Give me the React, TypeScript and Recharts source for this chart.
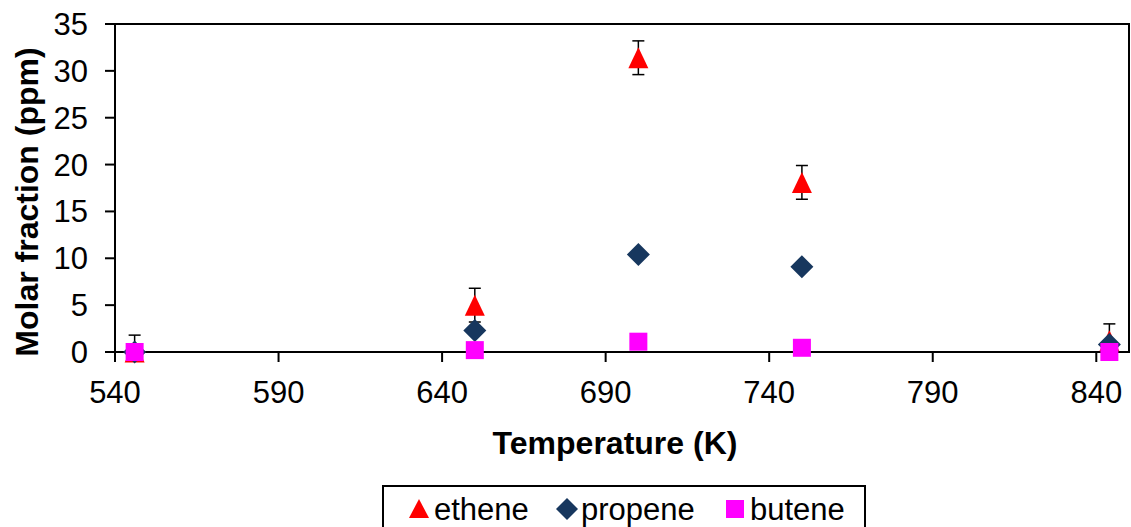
import React from 'react';
import {
  ScatterChart,
  Scatter,
  XAxis,
  YAxis,
  ErrorBar,
  ReferenceArea,
  Legend,
  Label,
} from 'recharts';

const FONT = '"Liberation Sans", Arial, sans-serif';

// Temperatures (K) at which samples were taken
const temperatures = [546, 650, 700, 750, 844];

// Molar fractions (ppm)
const ethene = [0, 5.0, 31.4, 18.1, 1.2];
const propene = [0, 2.3, 10.4, 9.1, 0.8];
const butene = [0, 0.2, 1.1, 0.45, 0];

// Ethene error bars (lower, upper); lower part is clipped at the axis in the original
const etheneErrLow = [0, 1.8, 1.8, 1.8, 1.2];
const etheneErrHigh = [1.8, 1.8, 1.8, 1.8, 1.8];

const xTicks = [540, 590, 640, 690, 740, 790, 840];
const yTicks = [0, 5, 10, 15, 20, 25, 30, 35];

const seriesNames = ['ethene', 'propene', 'butene'];
const seriesColors = ['#FF0000', '#17375E', '#FF00FF'];

const etheneData = temperatures.map((t, i) => ({
  x: t,
  y: ethene[i],
  err: [etheneErrLow[i], etheneErrHigh[i]],
}));
const propeneData = temperatures.map((t, i) => ({ x: t, y: propene[i] }));
const buteneData = temperatures.map((t, i) => ({ x: t, y: butene[i] }));

const Triangle = (props: any) => {
  const { cx, cy } = props;
  return (
    <polygon
      points={`${cx},${cy - 10.5} ${cx + 10},${cy + 10.5} ${cx - 10},${cy + 10.5}`}
      fill={seriesColors[0]}
    />
  );
};

const Diamond = (props: any) => {
  const { cx, cy } = props;
  const h = 11.5;
  return (
    <polygon
      points={`${cx},${cy - h} ${cx + h},${cy} ${cx},${cy + h} ${cx - h},${cy}`}
      fill={seriesColors[1]}
    />
  );
};

const Square = (props: any) => {
  const { cx, cy } = props;
  return <rect x={cx - 9} y={cy - 9} width={18} height={18} fill={seriesColors[2]} />;
};

const renderLegend = () => (
  <svg width={484} height={50} style={{ display: 'block' }}>
    <rect x={1} y={1} width={482} height={60} fill="#fff" stroke="#000" strokeWidth={2} />
    <polygon points="37,14 47,33 27,33" fill={seriesColors[0]} />
    <text x={52} y={35} fontSize={31} fontFamily={FONT} fill="#000">
      {seriesNames[0]}
    </text>
    <polygon points="185,13 196,24 185,35 174,24" fill={seriesColors[1]} />
    <text x={199} y={35} fontSize={31} fontFamily={FONT} fill="#000">
      {seriesNames[1]}
    </text>
    <rect x={344} y={15} width={18} height={18} fill={seriesColors[2]} />
    <text x={368} y={35} fontSize={31} fontFamily={FONT} fill="#000">
      {seriesNames[2]}
    </text>
  </svg>
);

const tickStyle = { fontSize: 31, fill: '#000', fontFamily: FONT };

export default function App() {
  return (
    <div style={{ position: 'absolute', left: 0, top: 0 }}>
      <ScatterChart
        width={1131}
        height={527}
        margin={{ top: 24, right: 2, bottom: 65, left: 0 }}
        style={{ background: '#fff' }}
      >
        <XAxis
          type="number"
          dataKey="x"
          domain={[540, 850]}
          ticks={xTicks}
          height={110}
          tick={tickStyle}
          tickSize={10}
          tickMargin={19}
          axisLine={{ stroke: '#000', strokeWidth: 2 }}
          tickLine={{ stroke: '#000', strokeWidth: 2 }}
        >
          <Label
            content={() => (
              <text
                x={615}
                y={454}
                textAnchor="middle"
                fontSize={32}
                fontWeight="bold"
                fontFamily={FONT}
                fill="#000"
              >
                Temperature (K)
              </text>
            )}
          />
        </XAxis>
        <YAxis
          type="number"
          dataKey="y"
          domain={[0, 35]}
          ticks={yTicks}
          width={115}
          tick={tickStyle}
          tickSize={10}
          tickMargin={17}
          axisLine={{ stroke: '#000', strokeWidth: 2 }}
          tickLine={{ stroke: '#000', strokeWidth: 2 }}
        >
          <Label
            content={() => (
              <text
                x={38}
                y={202}
                transform="rotate(-90, 38, 202)"
                textAnchor="middle"
                fontSize={32}
                fontWeight="bold"
                fontFamily={FONT}
                fill="#000"
              >
                Molar fraction (ppm)
              </text>
            )}
          />
        </YAxis>
        <ReferenceArea
          x1={540}
          x2={850}
          y1={0}
          y2={35}
          fill="none"
          stroke="#000"
          strokeWidth={2}
        />
        <Scatter
          name={seriesNames[0]}
          data={etheneData}
          shape={Triangle}
          isAnimationActive={false}
        >
          <ErrorBar dataKey="err" direction="y" width={6} stroke="#000" strokeWidth={1.5} />
        </Scatter>
        <Scatter
          name={seriesNames[1]}
          data={propeneData}
          shape={Diamond}
          isAnimationActive={false}
        />
        <Scatter
          name={seriesNames[2]}
          data={buteneData}
          shape={Square}
          isAnimationActive={false}
        />
        <Legend
          layout="horizontal"
          verticalAlign="middle"
          align="center"
          wrapperStyle={{ left: 382, top: 485, width: 484, height: 50 }}
          content={renderLegend}
        />
      </ScatterChart>
    </div>
  );
}
